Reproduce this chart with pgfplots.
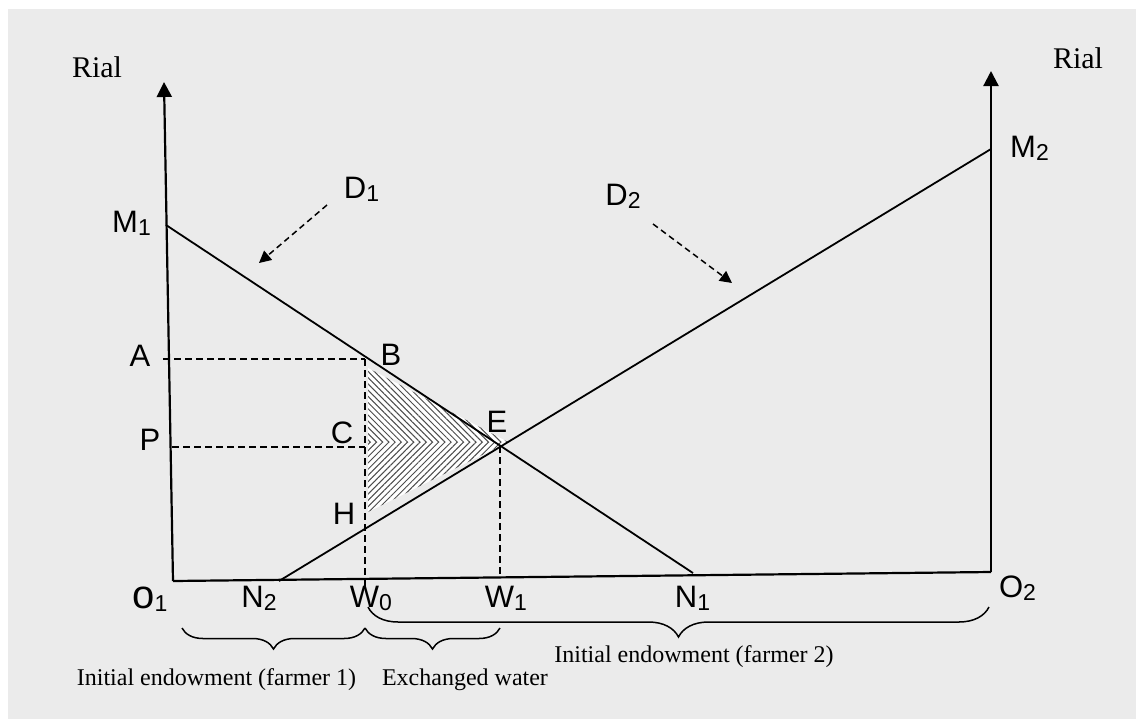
\documentclass[border=0pt]{standalone}
\usepackage{fontspec}
\setmainfont{Liberation Serif}
\newfontfamily\arial{Liberation Sans}
\usepackage{pgfplots}
\pgfplotsset{compat=1.18}
\usetikzlibrary{arrows.meta,patterns,patterns.meta,decorations.pathreplacing}
\definecolor{bggray}{RGB}{235,235,235}
\newcommand{\lab}{\arial\fontsize{15.5}{18}\selectfont}
\newcommand{\sub}[1]{\raisebox{-1.9pt}{\fontsize{11.5}{13}\selectfont #1}}
\newcommand{\txt}{\fontsize{12}{14}\selectfont}
\begin{document}
\begin{tikzpicture}
\begin{axis}[
  width=568pt, height=359.5pt, scale only axis,
  xmin=0, xmax=1136, ymin=0, ymax=719, y dir=reverse,
  hide axis, clip=false,
]
% background
\addplot[fill=white, draw=none] coordinates {(0,0)(1136,0)(1136,719)(0,719)} -- cycle;
\addplot[fill=bggray, draw=none] coordinates {(8,9)(1136,9)(1136,719)(8,719)} -- cycle;
% hatched area
\addplot[fill=white, draw=none] coordinates {(368,368)(508,442)(368,512)} -- cycle;
\addplot[draw=none, pattern={Lines[angle=-45,distance=2.2pt,line width=0.5pt]}, pattern color=black!70] coordinates {(368,368)(508,442)(368,442)} -- cycle;
\addplot[draw=none, pattern={Lines[angle=45,distance=2.2pt,line width=0.5pt]}, pattern color=black!70] coordinates {(368,442)(508,442)(368,512)} -- cycle;
% axes
\addplot[black, line width=1.1pt, -{Triangle[width=7.5pt,length=7.5pt]}] coordinates {(173,581)(164,82)};
\addplot[black, line width=1.1pt] coordinates {(173,581)(991,572)};
\addplot[black, line width=1.1pt, -{Triangle[width=7.5pt,length=7.5pt]}] coordinates {(991,572)(991,71)};
% demand lines
\addplot[black, line width=0.9pt] coordinates {(166,225)(693,573)};
\addplot[black, line width=0.9pt] coordinates {(279,581)(991,149)};
% dashed guides
\addplot[black, line width=0.75pt, dash pattern=on 3.5pt off 2pt] coordinates {(163,359)(365,359)};
\addplot[black, line width=0.75pt, dash pattern=on 3.5pt off 2pt] coordinates {(365,359)(365,590)};
\addplot[black, line width=0.75pt, dash pattern=on 3.5pt off 2pt] coordinates {(172,447)(365,447)};
\addplot[black, line width=0.75pt, dash pattern=on 3.5pt off 2pt] coordinates {(500,446)(500,577)};
% pointer arrows
\addplot[black, line width=0.75pt, dash pattern=on 3pt off 2pt, -{Triangle[width=6pt,length=6pt]}] coordinates {(327,205)(259,263)};
\addplot[black, line width=0.75pt, dash pattern=on 3pt off 2pt, -{Triangle[width=6pt,length=6pt]}] coordinates {(653,224)(732,283)};
% braces
\draw[line width=0.75pt, decorate, decoration={brace, amplitude=10.5pt}] (axis cs:365,628) -- (axis cs:182,628);
\draw[line width=0.75pt, decorate, decoration={brace, amplitude=10.5pt}] (axis cs:500,628) -- (axis cs:365,628);
\draw[line width=0.75pt, decorate, decoration={brace, amplitude=15pt}] (axis cs:989,607) -- (axis cs:368,607);
% labels
\node[anchor=base, font=\fontsize{15}{18}\selectfont] at (axis cs:97,77) {Rial};
\node[anchor=base, font=\fontsize{15}{18}\selectfont] at (axis cs:1078,68) {Rial};
\node[anchor=base, font=\lab] at (axis cs:131.5,232) {M\sub{1}};
\node[anchor=base, font=\lab] at (axis cs:1029.5,157) {M\sub{2}};
\node[anchor=base, font=\lab] at (axis cs:361.5,198) {D\sub{1}};
\node[anchor=base, font=\lab] at (axis cs:623,205) {D\sub{2}};
\node[anchor=base, font=\lab] at (axis cs:140,366) {A};
\node[anchor=base, font=\lab] at (axis cs:150,450) {P};
\node[anchor=base, font=\lab] at (axis cs:391,365) {B};
\node[anchor=base, font=\lab] at (axis cs:342,443) {C};
\node[anchor=base, font=\lab] at (axis cs:497,432) {E};
\node[anchor=base, font=\lab] at (axis cs:344,524) {H};
\node[anchor=base, font=\lab] at (axis cs:150,608) {{\fontsize{20}{22}\selectfont o}\sub{1}};
\node[anchor=base, font=\lab] at (axis cs:259,607) {N\sub{2}};
\node[anchor=base, font=\lab] at (axis cs:371,607) {W\sub{0}};
\node[anchor=base, font=\lab] at (axis cs:506,607) {W\sub{1}};
\node[anchor=base, font=\lab] at (axis cs:692.5,607) {N\sub{1}};
\node[anchor=base, font=\lab] at (axis cs:1017.5,597) {O\sub{2}};
\node[anchor=base, font=\txt] at (axis cs:216.5,685) {Initial endowment (farmer 1)};
\node[anchor=base, font=\txt] at (axis cs:465,685) {Exchanged water};
\node[anchor=base, font=\txt] at (axis cs:694,662) {Initial endowment (farmer 2)};
\end{axis}
\end{tikzpicture}
\end{document}
